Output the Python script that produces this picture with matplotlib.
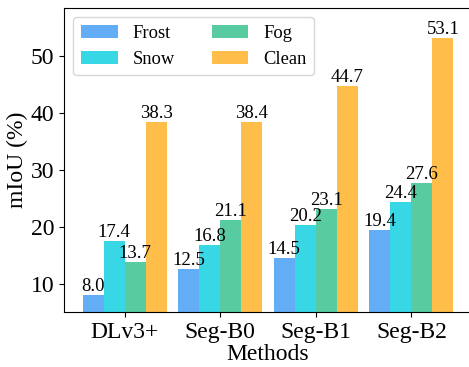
import matplotlib
matplotlib.use('Agg')
import matplotlib.pyplot as plt
import numpy as np

plt.rcParams['font.family'] = ['Liberation Serif', 'DejaVu Serif']

methods = ['DLv3+', 'Seg-B0', 'Seg-B1', 'Seg-B2']
conditions = ['Frost', 'Snow', 'Fog', 'Clean']
frost = [8.0, 12.5, 14.5, 19.4]
snow = [17.4, 16.8, 20.2, 24.4]
fog = [13.7, 21.1, 23.1, 27.6]
clean = [38.3, 38.4, 44.7, 53.1]
colors = ['#63adf7', '#38d7e5', '#58cba1', '#ffbd4a']

series = [frost, snow, fog, clean]

fig = plt.figure(figsize=(4.69, 3.67), dpi=100)
ax = fig.add_axes([64 / 469, 55 / 367, (472 - 64) / 469, (312 - 8) / 367])

x = np.arange(len(methods))
width = 0.22
for i, (vals, name, col) in enumerate(zip(series, conditions, colors)):
    bars = ax.bar(x + (i - 1.5) * width, vals, width, label=name, color=col)
    ax.bar_label(bars, fmt='%.1f', padding=0, fontsize=13.5)

ax.set_ylim(5, max(clean) * 1.1)
ax.set_xticks(x)
ax.set_xticklabels(methods, fontsize=17)
ax.tick_params(axis='y', labelsize=17)
ax.set_yticks([10, 20, 30, 40, 50])
ax.set_xlabel('Methods', fontsize=17, labelpad=1)
ax.set_ylabel('mIoU (%)', fontsize=17, labelpad=2)
ax.legend(loc='upper left', ncol=2, fontsize=13.3)

plt.savefig('out.png', dpi=100)
plt.close()
